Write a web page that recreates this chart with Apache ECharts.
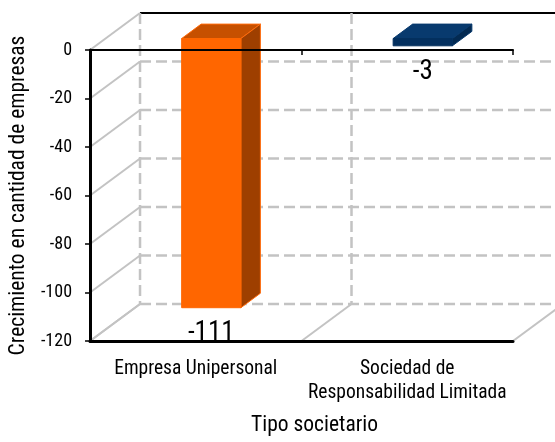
<!DOCTYPE html>
<html><head><meta charset="utf-8">
<script src="https://cdn.jsdelivr.net/npm/echarts@6/dist/echarts.min.js"></script>
<style>html,body{margin:0;padding:0;background:#fff}#c{width:555px;height:442px}</style>
</head><body><div id="c"></div>
<script>
// ---- data ----
const categories = ['Empresa Unipersonal', 'Sociedad de\nResponsabilidad Limitada'];
const empresaUnipersonal = [-111, null];
const sociedadLimitada = [null, -3];
const yTicks = [0, -20, -40, -60, -80, -100, -120];
const yTitle = 'Crecimiento en cantidad de empresas';
const xTitle = 'Tipo societario';

// ---- font choice: a narrow face if installed, else Liberation Sans scaled down ----
function fontAvailable(name) {
  const ctx = document.createElement('canvas').getContext('2d');
  const s = 'Empresa Unipersonal -0123456789 mwMW';
  for (const base of ['monospace', 'serif']) {
    ctx.font = '40px ' + base; const a = ctx.measureText(s).width;
    ctx.font = "40px '" + name + "', " + base; const b = ctx.measureText(s).width;
    if (Math.abs(a - b) > 0.5) return true;
  }
  return false;
}
const narrowFaces = ['Liberation Sans Narrow', 'Arial Narrow', 'Roboto Condensed', 'Open Sans Condensed'];
const narrow = narrowFaces.find(fontAvailable);
const FONT = narrow ? "'" + narrow + "', sans-serif" : "'Liberation Sans', Arial, sans-serif";
const K = narrow ? 1 : 0.84;
const FS_TICK = 18 * K, FS_CAT = 19.5 * K, FS_TITLE = 21.5 * K, FS_DATA = 27 * K;

// ---- styles ----
const DX = 50, DY = -37;            // oblique depth offset of the back wall
const BAR_D0 = 0.31, BAR_D1 = 0.70; // bar depth span (fraction of depth)
const BAR_W = 0.28;                 // bar width as fraction of category band
const GRID_GREY = '#c3c3c3';

function toPairs(arr) {
  return arr.map((v, i) => v == null ? null : [i, v]).filter(Boolean);
}

function frameItem(params, api) {
  const cs = params.coordSys;
  const left = cs.x, right = cs.x + cs.width;
  const yTop = cs.y, yBot = cs.y + cs.height;
  const v = api.value(1);
  const y = api.coord([0, v])[1];
  const children = [];
  children.push({ type: 'line', shape: { x1: left, y1: y, x2: left + DX, y2: y + DY },
    style: { stroke: GRID_GREY, lineWidth: 2 } });
  if (v === yTicks[0]) {
    children.push({ type: 'line', shape: { x1: left + DX, y1: y + DY, x2: right + DX, y2: y + DY },
      style: { stroke: '#000', lineWidth: 2 } });
  } else {
    children.push({ type: 'line', shape: { x1: left + DX, y1: y + DY, x2: right + DX, y2: y + DY },
      style: { stroke: GRID_GREY, lineWidth: 2.5, lineDash: [11, 5] } });
  }
  if (params.dataIndex === yTicks.length - 1) {
    const bw = api.size([1, 0])[0];
    for (let k = 0; k <= categories.length; k++) {
      const bx = left + k * bw;
      children.push({ type: 'line', shape: { x1: bx, y1: yBot, x2: bx + DX, y2: yBot + DY },
        style: { stroke: GRID_GREY, lineWidth: 2 } });
      children.push({ type: 'line', shape: { x1: bx + DX, y1: yTop + DY, x2: bx + DX, y2: yBot + DY },
        style: { stroke: GRID_GREY, lineWidth: 2.5, lineDash: [11, 5] } });
    }
  }
  return { type: 'group', children };
}

function makeBar(front, top, side, edge) {
  return function (params, api) {
    const idx = api.value(0), v = api.value(1);
    const c = api.coord([idx, 0]);
    const b = api.coord([idx, v]);
    const bw = api.size([1, 0])[0];
    const x0 = c[0] - bw * BAR_W / 2, x1 = c[0] + bw * BAR_W / 2;
    const yT = Math.min(c[1], b[1]), yB = Math.max(c[1], b[1]);
    const f = (x, y, d) => [x + DX * d, y + DY * d];
    return {
      type: 'group',
      children: [
        { type: 'polygon', shape: { points: [f(x0, yT, BAR_D0), f(x1, yT, BAR_D0), f(x1, yT, BAR_D1), f(x0, yT, BAR_D1)] },
          style: { fill: top, stroke: edge, lineWidth: 1 } },
        { type: 'polygon', shape: { points: [f(x1, yT, BAR_D0), f(x1, yT, BAR_D1), f(x1, yB, BAR_D1), f(x1, yB, BAR_D0)] },
          style: { fill: side, stroke: edge, lineWidth: 1 } },
        { type: 'polygon', shape: { points: [f(x0, yT, BAR_D0), f(x1, yT, BAR_D0), f(x1, yB, BAR_D0), f(x0, yB, BAR_D0)] },
          style: { fill: front, stroke: front, lineWidth: 1 } },
        { type: 'text', x: (x0 + x1) / 2 + DX * BAR_D0, y: b[1] + 1, z2: 10,
          style: { text: String(v), fontSize: FS_DATA, fontFamily: FONT, fill: '#000', align: 'center', verticalAlign: 'top' } }
      ]
    };
  };
}

const chart = echarts.init(document.getElementById('c'), null, { renderer: 'canvas' });
chart.setOption({
  animation: false,
  backgroundColor: '#fff',
  grid: { left: 83, right: 42, top: 50, bottom: 91 },
  xAxis: [
    {
      type: 'category', data: categories, position: 'bottom',
      axisLine: { onZero: false, lineStyle: { color: '#000', width: 3 } },
      axisTick: { show: false },
      axisLabel: { color: '#000', fontSize: FS_CAT, fontFamily: FONT, margin: 16, lineHeight: 24, interval: 0 },
      name: xTitle, nameLocation: 'middle', nameGap: 74,
      nameTextStyle: { color: '#000', fontSize: FS_TITLE, fontFamily: FONT, padding: [0, 0, 0, 26] },
      splitLine: { show: false }, z: 3
    },
    {
      type: 'category', data: categories, position: 'top',
      axisLine: { onZero: false, lineStyle: { color: '#000', width: 2 } },
      axisTick: { show: true, inside: true, length: 5, lineStyle: { color: '#000', width: 1.5 } },
      axisLabel: { show: false }, splitLine: { show: false }, z: 3
    }
  ],
  yAxis: {
    type: 'value', min: -120, max: 0, interval: 20,
    axisLine: { show: true, lineStyle: { color: '#000', width: 3 } },
    axisTick: { show: true, length: 5, lineStyle: { color: '#000', width: 1.5 } },
    axisLabel: { color: '#000', fontSize: FS_TICK, fontFamily: FONT, margin: 18 },
    splitLine: { show: false },
    name: yTitle, nameLocation: 'middle', nameGap: 38,
    nameTextStyle: { color: '#000', fontSize: FS_TITLE, fontFamily: FONT }, z: 3
  },
  series: [
    { type: 'custom', name: 'frame', z: -2, silent: true, clip: false,
      renderItem: frameItem, data: yTicks.map(v => [0, v]) },
    { type: 'custom', name: 'Empresa Unipersonal', z: 1, clip: false,
      renderItem: makeBar('#ff6600', '#c65000', '#9e3f00', '#ff6a0a'), data: toPairs(empresaUnipersonal) },
    { type: 'custom', name: 'Sociedad de Responsabilidad Limitada', z: 1, clip: false,
      renderItem: makeBar('#04305f', '#083a6e', '#032a52', '#083a6e'), data: toPairs(sociedadLimitada) }
  ]
});
</script>
</body></html>
